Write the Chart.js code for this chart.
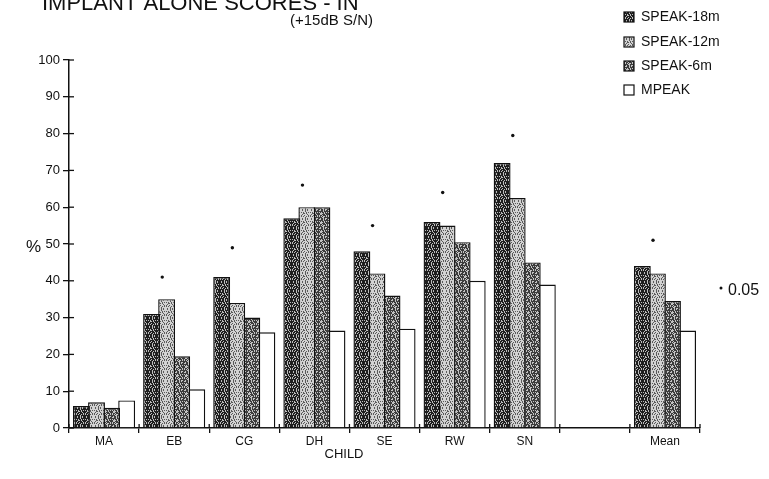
<!DOCTYPE html>
<html>
<head>
    <title>Implant alone scores</title>
    <script src="https://cdn.jsdelivr.net/npm/chart.js"></script>
    <style>
        html, body { margin: 0; padding: 0; background: #fff; }
        .chart-box { position: relative; width: 769px; height: 479px; }
    </style>
</head>
<body>
    <div class="chart-box">
        <canvas id="myChart"></canvas>
    </div>

    <script>
        // categories (children) and the empty slot before the mean
        const categories = ['MA', 'EB', 'CG', 'DH', 'SE', 'RW', 'SN', '', 'Mean'];

        // % scores
        const speak18 = [6, 31, 41, 57, 48, 56, 72, null, 44];
        const speak12 = [7, 35, 34, 60, 42, 55, 62.5, null, 42];
        const speak6 = [5.5, 19.5, 30, 60, 36, 50.5, 45, null, 34.5];
        const mpeak = [7.5, 10.5, 26, 26.5, 27, 40, 39, null, 26.5];

        // significance markers (*) height, null = none
        const starLevels = [null, 41, 49, 66, 55, 64, 79.5, null, 51];

        const seriesNames = ['SPEAK-18m', 'SPEAK-12m', 'SPEAK-6m', 'MPEAK'];
        const yMin = 0, yMax = 100, yStep = 10;

        // speckled fills, like the scanned print
        function stipple(base, speck, density) {
            const c = document.createElement('canvas');
            c.width = 9; c.height = 9;
            const g = c.getContext('2d');
            g.fillStyle = base;
            g.fillRect(0, 0, 9, 9);
            g.fillStyle = speck;
            for (let y = 0; y < 9; y++) {
                for (let x = 0; x < 9; x++) {
                    if (((x * 7 + y * 11 + x * y * 5) % 13) < density) g.fillRect(x, y, 1, 1);
                }
            }
            return g.createPattern(c, 'repeat');
        }

        const fills = [
            stipple('#1f1f1f', '#bdbdbd', 4),
            stipple('#d2d2d2', '#5a5a5a', 4),
            stipple('#3c3c3c', '#c4c4c4', 5),
            '#ffffff'
        ];

        // texts, stars and extra tick marks drawn on top
        const decorations = {
            id: 'decorations',
            afterDraw(chart) {
                const ctx = chart.ctx;
                const xs = chart.scales.x;
                const ys = chart.scales.y;
                const catW = xs.getPixelForValue(1) - xs.getPixelForValue(0);
                ctx.save();
                ctx.fillStyle = '#111';
                ctx.strokeStyle = '#111';

                // tick marks poking into the plot
                ctx.lineWidth = 1.3;
                for (let v = yMin; v <= yMax; v += yStep) {
                    const py = ys.getPixelForValue(v);
                    ctx.beginPath();
                    ctx.moveTo(xs.left, py);
                    ctx.lineTo(xs.left + 5, py);
                    ctx.stroke();
                }
                for (let i = 0; i <= categories.length; i++) {
                    const px = xs.getPixelForValue(i) - catW / 2;
                    ctx.beginPath();
                    ctx.moveTo(px, ys.bottom);
                    ctx.lineTo(px, ys.bottom - 4);
                    ctx.stroke();
                }

                // significance stars, a bit left of the group centre
                starLevels.forEach((v, i) => {
                    if (v === null) return;
                    ctx.beginPath();
                    ctx.arc(xs.getPixelForValue(i) - catW * 0.17, ys.getPixelForValue(v), 1.7, 0, Math.PI * 2);
                    ctx.fill();
                });

                // cut-off title
                ctx.textBaseline = 'alphabetic';
                ctx.textAlign = 'left';
                ctx.font = '22px "Liberation Sans", Arial, sans-serif';
                ctx.fillText('IMPLANT ALONE SCORES - IN', 42, 10);
                ctx.font = '15px "Liberation Sans", Arial, sans-serif';
                ctx.fillText('(+15dB S/N)', 290, 25);

                // y title
                ctx.font = '17px "Liberation Sans", Arial, sans-serif';
                ctx.textBaseline = 'middle';
                ctx.fillText('%', 26, 247);

                // x title
                ctx.font = '13px "Liberation Sans", Arial, sans-serif';
                ctx.textAlign = 'center';
                ctx.fillText('CHILD', 344, 454);

                // significance note
                ctx.textAlign = 'left';
                ctx.font = '16px "Liberation Sans", Arial, sans-serif';
                ctx.fillText('0.05', 728, 291);
                ctx.beginPath();
                ctx.arc(721, 288, 1.5, 0, Math.PI * 2);
                ctx.fill();

                // legend
                ctx.font = '14px "Liberation Sans", Arial, sans-serif';
                const rows = [17, 42, 66, 90];
                chart.data.datasets.forEach((ds, i) => {
                    ctx.fillStyle = ds.backgroundColor;
                    ctx.fillRect(624, rows[i] - 5, 10, 10);
                    ctx.lineWidth = 1.2;
                    ctx.strokeRect(624, rows[i] - 5, 10, 10);
                    ctx.fillStyle = '#111';
                    ctx.fillText(ds.label, 641, rows[i]);
                });
                ctx.restore();
            }
        };

        const barBase = {
            borderColor: '#111',
            borderWidth: 1.4,
            categoryPercentage: 0.86,
            barPercentage: 1.12
        };

        const ctx = document.getElementById('myChart').getContext('2d');
        const myChart = new Chart(ctx, {
            type: 'bar',
            data: {
                labels: categories,
                datasets: [
                    { ...barBase, label: seriesNames[0], data: speak18, backgroundColor: fills[0] },
                    { ...barBase, label: seriesNames[1], data: speak12, backgroundColor: fills[1] },
                    { ...barBase, label: seriesNames[2], data: speak6, backgroundColor: fills[2] },
                    { ...barBase, label: seriesNames[3], data: mpeak, backgroundColor: fills[3] }
                ]
            },
            options: {
                responsive: true,
                maintainAspectRatio: false,
                animation: false,
                layout: { padding: { top: 60, right: 69, left: 0, bottom: 0 } },
                plugins: {
                    legend: { display: false },
                    title: { display: false },
                    tooltip: { enabled: false }
                },
                scales: {
                    x: {
                        offset: true,
                        grid: {
                            display: true,
                            drawOnChartArea: false,
                            tickLength: 5,
                            color: '#111',
                            lineWidth: 1.3
                        },
                        border: { display: true, color: '#111', width: 1.5 },
                        ticks: {
                            color: '#111',
                            padding: 1,
                            font: { family: '"Liberation Sans", Arial, sans-serif', size: 12 }
                        },
                        afterFit(scale) { scale.height = 51; }
                    },
                    y: {
                        min: yMin,
                        max: yMax,
                        ticks: {
                            stepSize: yStep,
                            color: '#111',
                            padding: 3,
                            font: { family: '"Liberation Sans", Arial, sans-serif', size: 13 }
                        },
                        grid: {
                            display: true,
                            drawOnChartArea: false,
                            tickLength: 6,
                            color: '#111',
                            lineWidth: 1.3
                        },
                        border: { display: true, color: '#111', width: 1.5 },
                        afterFit(scale) { scale.width = 69; }
                    }
                }
            },
            plugins: [decorations]
        });
    </script>
</body>
</html>
